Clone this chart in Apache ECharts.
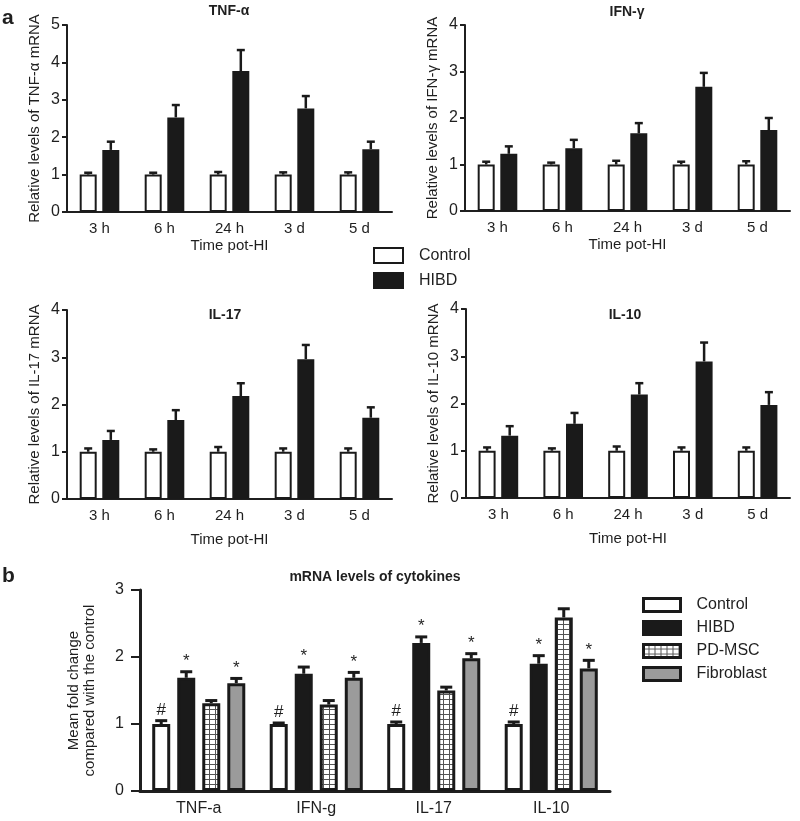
<!DOCTYPE html>
<html><head><meta charset="utf-8">
<script src="https://cdn.jsdelivr.net/npm/echarts@6/dist/echarts.min.js"></script>
<style>html,body{margin:0;padding:0;background:#fff}#c{width:800px;height:821px}</style>
</head><body><div id="c"></div>
<script>
// ---- Panel a data ----
const timePoints = ['3 h','6 h','24 h','3 d','5 d'];
const tnfControl = [1,1,1,1,1];
const tnfControlErr = [1.05,1.05,1.07,1.06,1.06];
const tnfHIBD = [1.66,2.53,3.77,2.77,1.68];
const tnfHIBDErr = [1.88,2.86,4.33,3.10,1.88];
const ifnControl = [1,1,1,1,1];
const ifnControlErr = [1.06,1.04,1.08,1.06,1.07];
const ifnHIBD = [1.23,1.35,1.67,2.67,1.74];
const ifnHIBDErr = [1.39,1.53,1.89,2.97,2.00];
const il17Control = [1,1,1,1,1];
const il17ControlErr = [1.07,1.05,1.10,1.07,1.07];
const il17HIBD = [1.25,1.67,2.18,2.96,1.72];
const il17HIBDErr = [1.44,1.88,2.45,3.26,1.94];
const il10Control = [1,1,1,1,1];
const il10ControlErr = [1.07,1.05,1.09,1.07,1.07];
const il10HIBD = [1.32,1.57,2.19,2.89,1.97];
const il10HIBDErr = [1.52,1.80,2.43,3.29,2.24];
// ---- Panel b data ----
const cytokines = ['TNF-a','IFN-g','IL-17','IL-10'];
const bControl = [1,1,1,1];
const bControlErr = [1.05,1.015,1.03,1.03];
const bHIBD = [1.69,1.75,2.21,1.90];
const bHIBDErr = [1.78,1.85,2.30,2.02];
const bPDMSC = [1.31,1.29,1.50,2.59];
const bPDMSCErr = [1.35,1.35,1.55,2.72];
const bFibro = [1.61,1.69,1.98,1.83];
const bFibroErr = [1.68,1.77,2.05,1.95];
const bControlMarks = ['#','#','#','#'];
const bHIBDMarks = ['*','*','*','*'];
const bFibroMarks = ['*','*','*','*'];

const FF = 'Liberation Sans, Arial, Helvetica, sans-serif';
const TXT = '#1f1f1f';
const AX = '#1f1f1f';
const DARK = '#1a1a1a';

function gridPattern(){
  const c = document.createElement('canvas'); c.width = 6; c.height = 5;
  const g = c.getContext('2d');
  g.fillStyle = '#fff'; g.fillRect(0,0,6,5);
  g.fillStyle = '#555'; g.fillRect(5,0,1,5); g.fillRect(0,4,6,1);
  return c;
}
const pdPattern = {image: gridPattern(), repeat: 'repeat'};

function errSeries(xi, vals, errs, offset, capW, lw, marks, markSize){
  return {
    type:'custom', xAxisIndex:xi, yAxisIndex:xi, z:5, silent:true,
    data: vals.map((v,i)=>[i, v, errs[i]]),
    renderItem:(params, api)=>{
      const top = api.coord([api.value(0), api.value(1)]);
      const cap = api.coord([api.value(0), api.value(2)]);
      const x = top[0] + offset;
      const children = [
        {type:'line', shape:{x1:x,y1:top[1],x2:x,y2:cap[1]}, style:{stroke:DARK, lineWidth:lw}},
        {type:'line', shape:{x1:x-capW/2,y1:cap[1],x2:x+capW/2,y2:cap[1]}, style:{stroke:DARK, lineWidth:lw}}
      ];
      const m = marks ? marks[params.dataIndex] : '';
      if (m) children.push({type:'text', style:{text:m, x:x, y:cap[1]-2, align:'center', verticalAlign:'bottom',
        textAlign:'center', textVerticalAlign:'bottom', fontSize:markSize, fontFamily:FF, fill:TXT}});
      return {type:'group', children};
    }
  };
}

const gridsA = [
  {left:67, top:25, width:325, height:187},
  {left:465, top:25, width:325, height:186},
  {left:67, top:310, width:325, height:189},
  {left:466, top:309, width:324, height:189}
];
const yMaxA = [5,4,4,4];
const yNamesA = ['Relative levels of TNF-α mRNA','Relative levels of IFN-γ mRNA','Relative levels of IL-17 mRNA','Relative levels of IL-10 mRNA'];
const xNameGapA = [26,26,33,33];
const dataA = [
  [tnfControl,tnfControlErr,tnfHIBD,tnfHIBDErr],
  [ifnControl,ifnControlErr,ifnHIBD,ifnHIBDErr],
  [il17Control,il17ControlErr,il17HIBD,il17HIBDErr],
  [il10Control,il10ControlErr,il10HIBD,il10HIBDErr]
];

const grid = gridsA.concat([{left:140, top:590, width:470, height:201}]);
const xAxis = [], yAxis = [], series = [];
const BW_A = 17, GAP_A = 0.33, BW_B = 18, GAP_B = 0.39;
const pitchA = BW_A*(1+GAP_A), pitchB = BW_B*(1+GAP_B);

gridsA.forEach((g,i)=>{
  xAxis.push({type:'category', gridIndex:i, data:timePoints, name:'Time pot-HI', nameLocation:'middle', nameGap:xNameGapA[i],
    nameTextStyle:{fontSize:15, color:TXT, fontFamily:FF},
    axisLine:{lineStyle:{color:AX, width:2}}, axisTick:{alignWithLabel:true, length:5, lineStyle:{color:AX, width:2}},
    axisLabel:{fontSize:15, color:TXT, fontFamily:FF, margin:9}});
  yAxis.push({type:'value', gridIndex:i, min:0, max:yMaxA[i], interval:1, name:yNamesA[i], nameLocation:'middle', nameGap:25,
    nameTextStyle:{fontSize:15, color:TXT, fontFamily:FF},
    axisLine:{show:true, lineStyle:{color:AX, width:2}}, axisTick:{show:true, length:5, lineStyle:{color:AX, width:2}},
    axisLabel:{fontSize:16, color:TXT, fontFamily:FF, margin:7}, splitLine:{show:false}});
  const d = dataA[i];
  series.push({type:'bar', name:'Control', xAxisIndex:i, yAxisIndex:i, data:d[0], barWidth:BW_A, barGap:(GAP_A*100)+'%',
    itemStyle:{color:'#fff', borderColor:DARK, borderWidth:2}, silent:true});
  series.push({type:'bar', name:'HIBD', xAxisIndex:i, yAxisIndex:i, data:d[2], barWidth:BW_A, barGap:(GAP_A*100)+'%',
    itemStyle:{color:DARK, borderColor:DARK, borderWidth:2}, silent:true});
  series.push(errSeries(i, d[0], d[1], -pitchA/2, 8, 2.5, null, 0));
  series.push(errSeries(i, d[2], d[3], pitchA/2, 8, 2.5, null, 0));
});

xAxis.push({type:'category', gridIndex:4, data:cytokines,
  axisLine:{lineStyle:{color:AX, width:3}}, axisTick:{alignWithLabel:true, length:5, lineStyle:{color:AX, width:3}},
  axisLabel:{fontSize:16, color:TXT, fontFamily:FF, margin:10}});
yAxis.push({type:'value', gridIndex:4, min:0, max:3, interval:1, name:'Mean fold change\ncompared with the control',
  nameLocation:'middle', nameGap:42, nameTextStyle:{fontSize:15, color:TXT, fontFamily:FF, lineHeight:16},
  axisLine:{show:true, lineStyle:{color:AX, width:3}}, axisTick:{show:true, length:9, lineStyle:{color:AX, width:2}},
  axisLabel:{fontSize:16, color:TXT, fontFamily:FF, margin:16}, splitLine:{show:false}});
const bSets = [
  ['Control', bControl, bControlErr, {color:'#fff'}, bControlMarks],
  ['HIBD', bHIBD, bHIBDErr, {color:DARK}, bHIBDMarks],
  ['PD-MSC', bPDMSC, bPDMSCErr, {color:pdPattern}, null],
  ['Fibroblast', bFibro, bFibroErr, {color:'#9b9b9b'}, bFibroMarks]
];
bSets.forEach((s,k)=>{
  series.push({type:'bar', name:s[0], xAxisIndex:4, yAxisIndex:4, data:s[1], barWidth:BW_B, barGap:(GAP_B*100)+'%',
    itemStyle:Object.assign({borderColor:DARK, borderWidth:3}, s[3]), silent:true});
});
bSets.forEach((s,k)=>{
  series.push(errSeries(4, s[1], s[2], (k-1.5)*pitchB, 12, 3, s[4], 17));
});

const titleStyle = {fontSize:14, fontWeight:'bold', color:TXT, fontFamily:FF};
const option = {
  backgroundColor:'#fff',
  animation:false,
  title:[
    {text:'a', left:2, top:8, padding:0, textStyle:{fontSize:21, fontWeight:'bold', color:TXT, fontFamily:FF}},
    {text:'b', left:2, top:566, padding:0, textStyle:{fontSize:21, fontWeight:'bold', color:TXT, fontFamily:FF}},
    {text:'TNF-α', left:229, top:4, padding:0, textAlign:'center', textStyle:titleStyle},
    {text:'IFN-γ', left:627, top:5, padding:0, textAlign:'center', textStyle:titleStyle},
    {text:'IL-17', left:225, top:308, padding:0, textAlign:'center', textStyle:titleStyle},
    {text:'IL-10', left:625, top:308, padding:0, textAlign:'center', textStyle:titleStyle},
    {text:'mRNA levels of cytokines', left:375, top:570, padding:0, textAlign:'center', textStyle:titleStyle}
  ],
  legend:[
    {data:['Control','HIBD'], orient:'vertical', left:373, top:247, padding:0, icon:'rect', itemWidth:29, itemHeight:15, itemGap:8,
      textStyle:{fontSize:16, color:TXT, fontFamily:FF, padding:[0,0,0,11]}, selectedMode:false},
    {data:['Control','HIBD','PD-MSC','Fibroblast'], orient:'vertical', left:642, top:597, padding:0, icon:'rect', itemWidth:37, itemHeight:13, itemGap:7,
      textStyle:{fontSize:16, color:TXT, fontFamily:FF, padding:[0,0,0,11]}, selectedMode:false,
      itemStyle:{borderWidth:3, borderColor:DARK}}
  ],
  grid, xAxis, yAxis, series
};
const chart = echarts.init(document.getElementById('c'), null, {renderer:'canvas'});
chart.setOption(option);
</script></body></html>
